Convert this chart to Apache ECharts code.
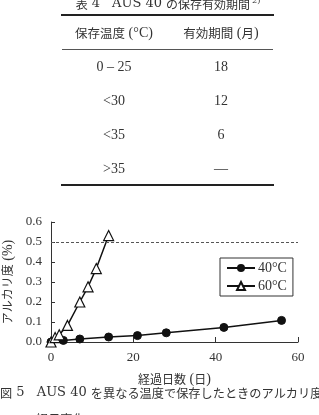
<!DOCTYPE html>
<html><head><meta charset="utf-8">
<script src="https://cdn.jsdelivr.net/npm/echarts@6/dist/echarts.min.js"></script>
<style>html,body{margin:0;padding:0;background:#fff;}#c{width:319px;height:415px;}</style>
</head><body><div id="c"></div>
<script>
var tableTitle = '表 4　AUS 40 の保存有効期間';
var tableTitleNote = '2)';
var tableHeaders = ['保存温度 (°C)', '有効期間 (月)'];
var tableTemps = ['0 – 25', '<30', '<35', '>35'];
var tablePeriods = ['18', '12', '6', '—'];

var days40 = [0, 3, 7, 14, 21, 28, 42, 56];
var alk40 = [0, 0.008, 0.015, 0.025, 0.032, 0.046, 0.073, 0.108];
var days60 = [0, 1, 2, 4, 7, 9, 11, 14];
var alk60 = [0, 0.022, 0.036, 0.083, 0.2, 0.276, 0.367, 0.532];
var limitValue = 0.5;
var xName = '経過日数 (日)';
var yName = 'アルカリ度 (%)';
var caption1 = '図 5　AUS 40 を異なる温度で保存したときのアルカリ度';
var caption2 = '経日変化';

var SERIF = "'Liberation Serif', serif";
var WIDE = "'DejaVu Serif', serif";
var CJK = "'Noto Sans CJK JP', sans-serif";
var TXT = '#333';

function pairs(xs, ys){ return xs.map(function(x,i){ return [x, ys[i]]; }); }
function isCJK(ch){ var c = ch.charCodeAt(0); return c >= 0x2E80 || c === 0x3000; }
function toRich(str){
  var out = '', run = '', mode = null;
  for (var i=0;i<str.length;i++){
    var m = isCJK(str[i]) ? 'j' : 'l';
    if (m !== mode && run){ out += '{'+mode+'|'+run+'}'; run=''; }
    mode = m; run += str[i];
  }
  if (run) out += '{'+mode+'|'+run+'}';
  return out;
}
function richStyles(lSize, jSize, lFont){
  return { l:{fontSize:lSize, fontFamily:lFont||SERIF, fill:TXT, color:TXT},
           j:{fontSize:jSize, fontFamily:CJK, fill:TXT, color:TXT},
           s:{fontSize:8, fontFamily:lFont||SERIF, fill:TXT, color:TXT, verticalAlign:'top', padding:[0,0,6,2]} };
}

var graphics = [];
function gtext(str, x, y, align, lSize, jSize, lFont, extra){
  graphics.push({type:'text', x:x, y:y, style:{text:toRich(str) + (extra || ''), rich:richStyles(lSize, jSize, lFont),
    align:align, verticalAlign:'middle', fill:TXT}});
}
gtext(tableTitle, 168, 4, 'center', 13, 12, WIDE, '{s|' + tableTitleNote + '}');
graphics.push({type:'rect', shape:{x:61, y:14, width:213, height:2}, style:{fill:'#222'}});
gtext(tableHeaders[0], 114, 33, 'center', 14, 12.5, SERIF);
gtext(tableHeaders[1], 221, 33, 'center', 14, 12.5, SERIF);
graphics.push({type:'rect', shape:{x:62, y:49, width:211, height:1}, style:{fill:'#555'}});
for (var i=0;i<tableTemps.length;i++){
  var yy = 67.5 + i*34;
  gtext(tableTemps[i], 114, yy, 'center', 14, 12, SERIF);
  gtext(tablePeriods[i], 221, yy, 'center', 14, 12, SERIF);
}
graphics.push({type:'rect', shape:{x:61, y:184, width:213, height:2}, style:{fill:'#222'}});
gtext(caption1, 0, 393, 'left', 13, 12.2, WIDE);
gtext(caption2, 36, 419, 'left', 13, 12.2, WIDE);

var chart = echarts.init(document.getElementById('c'));
chart.setOption({
  animation:false,
  backgroundColor:'#fff',
  textStyle:{fontFamily:SERIF},
  grid:{left:51, right:21, top:222, bottom:73, containLabel:false, outerBoundsMode:'none'},
  xAxis:{type:'value', min:0, max:60, interval:20,
    name:toRich(xName), nameLocation:'middle', nameGap:30,
    nameTextStyle:{color:TXT, rich:richStyles(14, 12)},
    axisLine:{lineStyle:{color:'#333', width:1}},
    axisTick:{inside:true, length:5, lineStyle:{color:'#333'}},
    axisLabel:{fontSize:13, color:TXT, fontFamily:SERIF, margin:9},
    splitLine:{show:false}},
  yAxis:{type:'value', min:0, max:0.6, interval:0.1,
    name:toRich(yName), nameLocation:'middle', nameGap:33, nameRotate:90,
    nameTextStyle:{color:TXT, rich:richStyles(14, 12)},
    axisLine:{show:true, lineStyle:{color:'#333', width:1}},
    axisTick:{show:true, inside:true, length:4, lineStyle:{color:'#333'}},
    axisLabel:{fontSize:13, color:TXT, fontFamily:SERIF, margin:9, formatter:function(v){return v.toFixed(1);}},
    splitLine:{show:false}},
  legend:{orient:'vertical', left:220, top:258,
    backgroundColor:'#fff', borderColor:'#333', borderWidth:1, padding:[3,6,3,6],
    itemWidth:28, itemHeight:10, itemGap:4,
    textStyle:{fontSize:14, color:TXT, fontFamily:SERIF, padding:[0,0,0,-2]},
    data:['40°C','60°C']},
  graphic:graphics,
  series:[
    {name:'40°C', type:'line', data:pairs(days40, alk40), symbol:'circle', symbolSize:8,
      lineStyle:{color:'#111', width:1.5}, itemStyle:{color:'#111', borderColor:'#111'}, z:3},
    {name:'60°C', type:'line', data:pairs(days60, alk60), symbol:'triangle', symbolSize:10,
      lineStyle:{color:'#111', width:1.5}, itemStyle:{color:'#fff', borderColor:'#111', borderWidth:1.2}, z:4,
      markLine:{silent:true, symbol:'none', label:{show:false},
        lineStyle:{color:'#555', type:[3,2], width:1},
        data:[{yAxis:limitValue}]}}
  ]
});
</script></body></html>
